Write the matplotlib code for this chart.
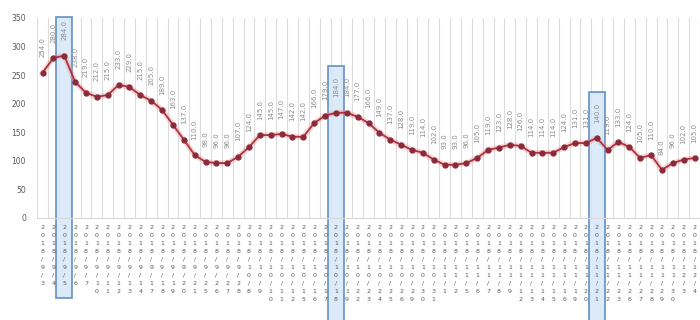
import numpy as np
import matplotlib
matplotlib.use("Agg")
from matplotlib import pyplot as plt
from matplotlib.patches import Rectangle

# daily index values
values = [254, 280, 284, 238, 219, 212, 215, 233, 229, 215,
          205, 189, 163, 137, 110, 98, 96, 96, 107, 124,
          145, 145, 147, 142, 142, 166, 179, 184, 184, 177,
          166, 149, 137, 128, 119, 114, 102, 93, 93, 96,
          105, 119, 123, 128, 126, 114, 114, 114, 124, 131,
          131, 140, 119, 133, 124, 105, 110, 84, 96, 102,
          105]

dates = ["2018/9/3", "2018/9/4", "2018/9/5", "2018/9/6", "2018/9/7",
         "2018/9/10", "2018/9/11", "2018/9/12", "2018/9/13", "2018/9/14",
         "2018/9/17", "2018/9/18", "2018/9/19", "2018/9/20", "2018/9/21",
         "2018/9/25", "2018/9/26", "2018/9/27", "2018/9/28", "2018/10/8",
         "2018/10/9", "2018/10/10", "2018/10/11", "2018/10/12", "2018/10/15",
         "2018/10/16", "2018/10/17", "2018/10/18", "2018/10/19", "2018/10/22",
         "2018/10/23", "2018/10/24", "2018/10/25", "2018/10/26", "2018/10/29",
         "2018/10/30", "2018/10/31", "2018/11/1", "2018/11/2", "2018/11/5",
         "2018/11/6", "2018/11/7", "2018/11/8", "2018/11/9", "2018/11/12",
         "2018/11/13", "2018/11/14", "2018/11/15", "2018/11/16", "2018/11/19",
         "2018/11/20", "2018/11/21", "2018/11/22", "2018/11/23", "2018/11/26",
         "2018/11/27", "2018/11/28", "2018/11/29", "2018/11/30", "2018/12/3",
         "2018/12/4"]

yticks = [0, 50, 100, 150, 200, 250, 300, 350]

# highlighted days: (index, top value, bottom value)
highlights = [(2, 352, -140), (27, 266, -200), (51, 220, -200)]

x = np.arange(len(values))

fig = plt.figure(figsize=(7, 3.2), dpi=100)
ax = fig.add_axes([0.053, 0.319, 0.947, 0.625])

ax.set_xlim(-0.5, len(values) - 0.5)
ax.set_ylim(0, 350)

# vertical separators between days
for b in np.arange(len(values) + 1) - 0.5:
    ax.axvline(b, color="#dcdcdc", lw=0.8, zorder=0)

for i, top, bot in highlights:
    r = Rectangle((i - 0.72, bot), 1.44, top - bot, facecolor="#d4e6f8",
                  edgecolor="#4f81bd", lw=1.3, alpha=0.8, clip_on=False, zorder=1)
    ax.add_patch(r)

ax.plot(x, values, color="#e89090", lw=4, alpha=0.35, zorder=2)
ax.plot(x, values, color="#b0303c", lw=1.3, marker="o", ms=3.5,
        mfc="#8b2a3a", mec="#8b2a3a", zorder=3)

for i, v in enumerate(values):
    ax.annotate(f"{v:.1f}", (i, v), xytext=(0, 11), textcoords="offset points",
                rotation=90, ha="center", va="bottom", fontsize=5, color="#8c8c8c")

for i, d in enumerate(dates):
    ax.text(i, -0.035, "\n".join(d), transform=ax.get_xaxis_transform(),
            ha="center", va="top", fontsize=4.5, color="#595959", linespacing=1.75)

ax.set_yticks(yticks)
ax.tick_params(axis="y", length=0, labelsize=5.5, labelcolor="#595959", pad=8)
ax.set_xticks([])
for s in ["top", "right", "left"]:
    ax.spines[s].set_visible(False)
ax.spines["bottom"].set_color("#d9d9d9")

fig.savefig("out.png", dpi=100)
